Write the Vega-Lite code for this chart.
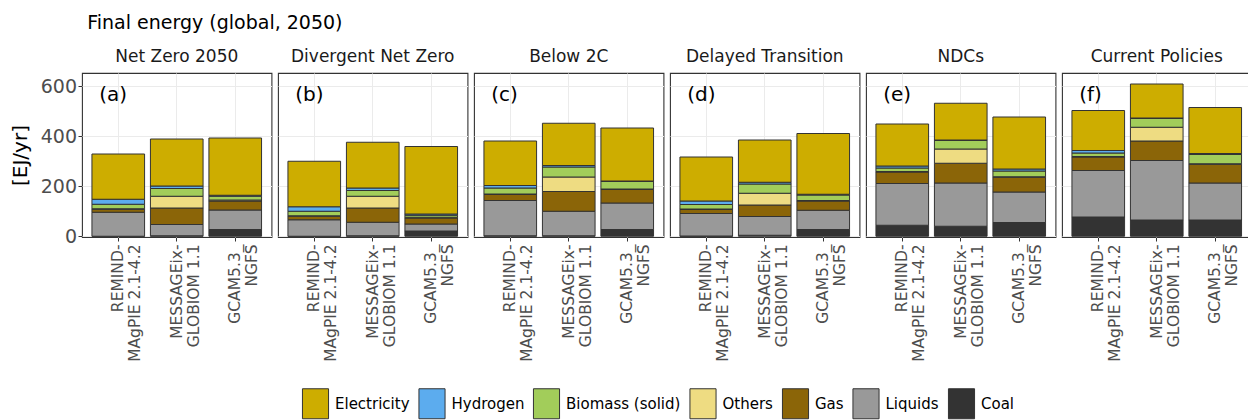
{
  "$schema": "https://vega.github.io/schema/vega-lite/v6.json",
  "padding": {"left": 10, "top": 14, "right": 0, "bottom": 0},
  "bounds": "flush",
  "title": {"text": "Final energy (global, 2050)", "anchor": "start", "frame": "bounds", "dx": 77, "fontSize": 19, "fontWeight": "normal", "color": "#000000", "font": "DejaVu Sans", "offset": 15},
  "data": {"values": [
    {"scenario": "Net Zero 2050", "model": "REMIND-MAgPIE 2.1-4.2", "carrier": "Coal", "value": 0, "tag": "(a)"},
    {"scenario": "Net Zero 2050", "model": "REMIND-MAgPIE 2.1-4.2", "carrier": "Liquids", "value": 96},
    {"scenario": "Net Zero 2050", "model": "REMIND-MAgPIE 2.1-4.2", "carrier": "Gas", "value": 12},
    {"scenario": "Net Zero 2050", "model": "REMIND-MAgPIE 2.1-4.2", "carrier": "Others", "value": 2},
    {"scenario": "Net Zero 2050", "model": "REMIND-MAgPIE 2.1-4.2", "carrier": "Biomass (solid)", "value": 18},
    {"scenario": "Net Zero 2050", "model": "REMIND-MAgPIE 2.1-4.2", "carrier": "Hydrogen", "value": 20},
    {"scenario": "Net Zero 2050", "model": "REMIND-MAgPIE 2.1-4.2", "carrier": "Electricity", "value": 181},
    {"scenario": "Net Zero 2050", "model": "MESSAGEix-GLOBIOM 1.1", "carrier": "Coal", "value": 2},
    {"scenario": "Net Zero 2050", "model": "MESSAGEix-GLOBIOM 1.1", "carrier": "Liquids", "value": 45},
    {"scenario": "Net Zero 2050", "model": "MESSAGEix-GLOBIOM 1.1", "carrier": "Gas", "value": 66},
    {"scenario": "Net Zero 2050", "model": "MESSAGEix-GLOBIOM 1.1", "carrier": "Others", "value": 47},
    {"scenario": "Net Zero 2050", "model": "MESSAGEix-GLOBIOM 1.1", "carrier": "Biomass (solid)", "value": 31},
    {"scenario": "Net Zero 2050", "model": "MESSAGEix-GLOBIOM 1.1", "carrier": "Hydrogen", "value": 10},
    {"scenario": "Net Zero 2050", "model": "MESSAGEix-GLOBIOM 1.1", "carrier": "Electricity", "value": 188},
    {"scenario": "Net Zero 2050", "model": "GCAM5.3_NGFS", "carrier": "Coal", "value": 27},
    {"scenario": "Net Zero 2050", "model": "GCAM5.3_NGFS", "carrier": "Liquids", "value": 78},
    {"scenario": "Net Zero 2050", "model": "GCAM5.3_NGFS", "carrier": "Gas", "value": 36},
    {"scenario": "Net Zero 2050", "model": "GCAM5.3_NGFS", "carrier": "Others", "value": 4},
    {"scenario": "Net Zero 2050", "model": "GCAM5.3_NGFS", "carrier": "Biomass (solid)", "value": 15},
    {"scenario": "Net Zero 2050", "model": "GCAM5.3_NGFS", "carrier": "Hydrogen", "value": 4},
    {"scenario": "Net Zero 2050", "model": "GCAM5.3_NGFS", "carrier": "Electricity", "value": 229},

    {"scenario": "Divergent Net Zero", "model": "REMIND-MAgPIE 2.1-4.2", "carrier": "Coal", "value": 0, "tag": "(b)"},
    {"scenario": "Divergent Net Zero", "model": "REMIND-MAgPIE 2.1-4.2", "carrier": "Liquids", "value": 66},
    {"scenario": "Divergent Net Zero", "model": "REMIND-MAgPIE 2.1-4.2", "carrier": "Gas", "value": 14},
    {"scenario": "Divergent Net Zero", "model": "REMIND-MAgPIE 2.1-4.2", "carrier": "Others", "value": 2},
    {"scenario": "Divergent Net Zero", "model": "REMIND-MAgPIE 2.1-4.2", "carrier": "Biomass (solid)", "value": 18},
    {"scenario": "Divergent Net Zero", "model": "REMIND-MAgPIE 2.1-4.2", "carrier": "Hydrogen", "value": 18},
    {"scenario": "Divergent Net Zero", "model": "REMIND-MAgPIE 2.1-4.2", "carrier": "Electricity", "value": 182},
    {"scenario": "Divergent Net Zero", "model": "MESSAGEix-GLOBIOM 1.1", "carrier": "Coal", "value": 2},
    {"scenario": "Divergent Net Zero", "model": "MESSAGEix-GLOBIOM 1.1", "carrier": "Liquids", "value": 54},
    {"scenario": "Divergent Net Zero", "model": "MESSAGEix-GLOBIOM 1.1", "carrier": "Gas", "value": 57},
    {"scenario": "Divergent Net Zero", "model": "MESSAGEix-GLOBIOM 1.1", "carrier": "Others", "value": 47},
    {"scenario": "Divergent Net Zero", "model": "MESSAGEix-GLOBIOM 1.1", "carrier": "Biomass (solid)", "value": 23},
    {"scenario": "Divergent Net Zero", "model": "MESSAGEix-GLOBIOM 1.1", "carrier": "Hydrogen", "value": 10},
    {"scenario": "Divergent Net Zero", "model": "MESSAGEix-GLOBIOM 1.1", "carrier": "Electricity", "value": 183},
    {"scenario": "Divergent Net Zero", "model": "GCAM5.3_NGFS", "carrier": "Coal", "value": 21},
    {"scenario": "Divergent Net Zero", "model": "GCAM5.3_NGFS", "carrier": "Liquids", "value": 28},
    {"scenario": "Divergent Net Zero", "model": "GCAM5.3_NGFS", "carrier": "Gas", "value": 24},
    {"scenario": "Divergent Net Zero", "model": "GCAM5.3_NGFS", "carrier": "Others", "value": 3},
    {"scenario": "Divergent Net Zero", "model": "GCAM5.3_NGFS", "carrier": "Biomass (solid)", "value": 8},
    {"scenario": "Divergent Net Zero", "model": "GCAM5.3_NGFS", "carrier": "Hydrogen", "value": 5},
    {"scenario": "Divergent Net Zero", "model": "GCAM5.3_NGFS", "carrier": "Electricity", "value": 270},

    {"scenario": "Below 2C", "model": "REMIND-MAgPIE 2.1-4.2", "carrier": "Coal", "value": 2, "tag": "(c)"},
    {"scenario": "Below 2C", "model": "REMIND-MAgPIE 2.1-4.2", "carrier": "Liquids", "value": 141},
    {"scenario": "Below 2C", "model": "REMIND-MAgPIE 2.1-4.2", "carrier": "Gas", "value": 24},
    {"scenario": "Below 2C", "model": "REMIND-MAgPIE 2.1-4.2", "carrier": "Others", "value": 2},
    {"scenario": "Below 2C", "model": "REMIND-MAgPIE 2.1-4.2", "carrier": "Biomass (solid)", "value": 24},
    {"scenario": "Below 2C", "model": "REMIND-MAgPIE 2.1-4.2", "carrier": "Hydrogen", "value": 10},
    {"scenario": "Below 2C", "model": "REMIND-MAgPIE 2.1-4.2", "carrier": "Electricity", "value": 178},
    {"scenario": "Below 2C", "model": "MESSAGEix-GLOBIOM 1.1", "carrier": "Coal", "value": 2},
    {"scenario": "Below 2C", "model": "MESSAGEix-GLOBIOM 1.1", "carrier": "Liquids", "value": 98},
    {"scenario": "Below 2C", "model": "MESSAGEix-GLOBIOM 1.1", "carrier": "Gas", "value": 79},
    {"scenario": "Below 2C", "model": "MESSAGEix-GLOBIOM 1.1", "carrier": "Others", "value": 58},
    {"scenario": "Below 2C", "model": "MESSAGEix-GLOBIOM 1.1", "carrier": "Biomass (solid)", "value": 40},
    {"scenario": "Below 2C", "model": "MESSAGEix-GLOBIOM 1.1", "carrier": "Hydrogen", "value": 6},
    {"scenario": "Below 2C", "model": "MESSAGEix-GLOBIOM 1.1", "carrier": "Electricity", "value": 169},
    {"scenario": "Below 2C", "model": "GCAM5.3_NGFS", "carrier": "Coal", "value": 27},
    {"scenario": "Below 2C", "model": "GCAM5.3_NGFS", "carrier": "Liquids", "value": 106},
    {"scenario": "Below 2C", "model": "GCAM5.3_NGFS", "carrier": "Gas", "value": 54},
    {"scenario": "Below 2C", "model": "GCAM5.3_NGFS", "carrier": "Others", "value": 2},
    {"scenario": "Below 2C", "model": "GCAM5.3_NGFS", "carrier": "Biomass (solid)", "value": 30},
    {"scenario": "Below 2C", "model": "GCAM5.3_NGFS", "carrier": "Hydrogen", "value": 2},
    {"scenario": "Below 2C", "model": "GCAM5.3_NGFS", "carrier": "Electricity", "value": 212},

    {"scenario": "Delayed Transition", "model": "REMIND-MAgPIE 2.1-4.2", "carrier": "Coal", "value": 1, "tag": "(d)"},
    {"scenario": "Delayed Transition", "model": "REMIND-MAgPIE 2.1-4.2", "carrier": "Liquids", "value": 90},
    {"scenario": "Delayed Transition", "model": "REMIND-MAgPIE 2.1-4.2", "carrier": "Gas", "value": 16},
    {"scenario": "Delayed Transition", "model": "REMIND-MAgPIE 2.1-4.2", "carrier": "Others", "value": 2},
    {"scenario": "Delayed Transition", "model": "REMIND-MAgPIE 2.1-4.2", "carrier": "Biomass (solid)", "value": 18},
    {"scenario": "Delayed Transition", "model": "REMIND-MAgPIE 2.1-4.2", "carrier": "Hydrogen", "value": 14},
    {"scenario": "Delayed Transition", "model": "REMIND-MAgPIE 2.1-4.2", "carrier": "Electricity", "value": 176},
    {"scenario": "Delayed Transition", "model": "MESSAGEix-GLOBIOM 1.1", "carrier": "Coal", "value": 4},
    {"scenario": "Delayed Transition", "model": "MESSAGEix-GLOBIOM 1.1", "carrier": "Liquids", "value": 75},
    {"scenario": "Delayed Transition", "model": "MESSAGEix-GLOBIOM 1.1", "carrier": "Gas", "value": 46},
    {"scenario": "Delayed Transition", "model": "MESSAGEix-GLOBIOM 1.1", "carrier": "Others", "value": 47},
    {"scenario": "Delayed Transition", "model": "MESSAGEix-GLOBIOM 1.1", "carrier": "Biomass (solid)", "value": 37},
    {"scenario": "Delayed Transition", "model": "MESSAGEix-GLOBIOM 1.1", "carrier": "Hydrogen", "value": 7},
    {"scenario": "Delayed Transition", "model": "MESSAGEix-GLOBIOM 1.1", "carrier": "Electricity", "value": 169},
    {"scenario": "Delayed Transition", "model": "GCAM5.3_NGFS", "carrier": "Coal", "value": 27},
    {"scenario": "Delayed Transition", "model": "GCAM5.3_NGFS", "carrier": "Liquids", "value": 77},
    {"scenario": "Delayed Transition", "model": "GCAM5.3_NGFS", "carrier": "Gas", "value": 37},
    {"scenario": "Delayed Transition", "model": "GCAM5.3_NGFS", "carrier": "Others", "value": 2},
    {"scenario": "Delayed Transition", "model": "GCAM5.3_NGFS", "carrier": "Biomass (solid)", "value": 22},
    {"scenario": "Delayed Transition", "model": "GCAM5.3_NGFS", "carrier": "Hydrogen", "value": 3},
    {"scenario": "Delayed Transition", "model": "GCAM5.3_NGFS", "carrier": "Electricity", "value": 243},

    {"scenario": "NDCs", "model": "REMIND-MAgPIE 2.1-4.2", "carrier": "Coal", "value": 44, "tag": "(e)"},
    {"scenario": "NDCs", "model": "REMIND-MAgPIE 2.1-4.2", "carrier": "Liquids", "value": 167},
    {"scenario": "NDCs", "model": "REMIND-MAgPIE 2.1-4.2", "carrier": "Gas", "value": 46},
    {"scenario": "NDCs", "model": "REMIND-MAgPIE 2.1-4.2", "carrier": "Others", "value": 2},
    {"scenario": "NDCs", "model": "REMIND-MAgPIE 2.1-4.2", "carrier": "Biomass (solid)", "value": 14},
    {"scenario": "NDCs", "model": "REMIND-MAgPIE 2.1-4.2", "carrier": "Hydrogen", "value": 8},
    {"scenario": "NDCs", "model": "REMIND-MAgPIE 2.1-4.2", "carrier": "Electricity", "value": 168},
    {"scenario": "NDCs", "model": "MESSAGEix-GLOBIOM 1.1", "carrier": "Coal", "value": 40},
    {"scenario": "NDCs", "model": "MESSAGEix-GLOBIOM 1.1", "carrier": "Liquids", "value": 173},
    {"scenario": "NDCs", "model": "MESSAGEix-GLOBIOM 1.1", "carrier": "Gas", "value": 79},
    {"scenario": "NDCs", "model": "MESSAGEix-GLOBIOM 1.1", "carrier": "Others", "value": 57},
    {"scenario": "NDCs", "model": "MESSAGEix-GLOBIOM 1.1", "carrier": "Biomass (solid)", "value": 34},
    {"scenario": "NDCs", "model": "MESSAGEix-GLOBIOM 1.1", "carrier": "Hydrogen", "value": 2},
    {"scenario": "NDCs", "model": "MESSAGEix-GLOBIOM 1.1", "carrier": "Electricity", "value": 147},
    {"scenario": "NDCs", "model": "GCAM5.3_NGFS", "carrier": "Coal", "value": 55},
    {"scenario": "NDCs", "model": "GCAM5.3_NGFS", "carrier": "Liquids", "value": 122},
    {"scenario": "NDCs", "model": "GCAM5.3_NGFS", "carrier": "Gas", "value": 59},
    {"scenario": "NDCs", "model": "GCAM5.3_NGFS", "carrier": "Others", "value": 2},
    {"scenario": "NDCs", "model": "GCAM5.3_NGFS", "carrier": "Biomass (solid)", "value": 23},
    {"scenario": "NDCs", "model": "GCAM5.3_NGFS", "carrier": "Hydrogen", "value": 8},
    {"scenario": "NDCs", "model": "GCAM5.3_NGFS", "carrier": "Electricity", "value": 208},

    {"scenario": "Current Policies", "model": "REMIND-MAgPIE 2.1-4.2", "carrier": "Coal", "value": 77, "tag": "(f)"},
    {"scenario": "Current Policies", "model": "REMIND-MAgPIE 2.1-4.2", "carrier": "Liquids", "value": 186},
    {"scenario": "Current Policies", "model": "REMIND-MAgPIE 2.1-4.2", "carrier": "Gas", "value": 54},
    {"scenario": "Current Policies", "model": "REMIND-MAgPIE 2.1-4.2", "carrier": "Others", "value": 2},
    {"scenario": "Current Policies", "model": "REMIND-MAgPIE 2.1-4.2", "carrier": "Biomass (solid)", "value": 14},
    {"scenario": "Current Policies", "model": "REMIND-MAgPIE 2.1-4.2", "carrier": "Hydrogen", "value": 10},
    {"scenario": "Current Policies", "model": "REMIND-MAgPIE 2.1-4.2", "carrier": "Electricity", "value": 160},
    {"scenario": "Current Policies", "model": "MESSAGEix-GLOBIOM 1.1", "carrier": "Coal", "value": 65},
    {"scenario": "Current Policies", "model": "MESSAGEix-GLOBIOM 1.1", "carrier": "Liquids", "value": 238},
    {"scenario": "Current Policies", "model": "MESSAGEix-GLOBIOM 1.1", "carrier": "Gas", "value": 78},
    {"scenario": "Current Policies", "model": "MESSAGEix-GLOBIOM 1.1", "carrier": "Others", "value": 55},
    {"scenario": "Current Policies", "model": "MESSAGEix-GLOBIOM 1.1", "carrier": "Biomass (solid)", "value": 35},
    {"scenario": "Current Policies", "model": "MESSAGEix-GLOBIOM 1.1", "carrier": "Hydrogen", "value": 2},
    {"scenario": "Current Policies", "model": "MESSAGEix-GLOBIOM 1.1", "carrier": "Electricity", "value": 136},
    {"scenario": "Current Policies", "model": "GCAM5.3_NGFS", "carrier": "Coal", "value": 65},
    {"scenario": "Current Policies", "model": "GCAM5.3_NGFS", "carrier": "Liquids", "value": 148},
    {"scenario": "Current Policies", "model": "GCAM5.3_NGFS", "carrier": "Gas", "value": 75},
    {"scenario": "Current Policies", "model": "GCAM5.3_NGFS", "carrier": "Others", "value": 2},
    {"scenario": "Current Policies", "model": "GCAM5.3_NGFS", "carrier": "Biomass (solid)", "value": 37},
    {"scenario": "Current Policies", "model": "GCAM5.3_NGFS", "carrier": "Hydrogen", "value": 4},
    {"scenario": "Current Policies", "model": "GCAM5.3_NGFS", "carrier": "Electricity", "value": 184}
  ]},
  "transform": [
    {"calculate": "indexof(['Coal', 'Liquids', 'Gas', 'Others', 'Biomass (solid)', 'Hydrogen', 'Electricity'], datum.carrier)", "as": "stackorder"}
  ],
  "facet": {
    "column": {
      "field": "scenario", "type": "nominal",
      "sort": ["Net Zero 2050", "Divergent Net Zero", "Below 2C", "Delayed Transition", "NDCs", "Current Policies"],
      "header": {"title": null, "labelFontSize": 17, "labelColor": "#1a1a1a", "labelFont": "DejaVu Sans", "labelPadding": 7}
    }
  },
  "spacing": 6,
  "spec": {
    "width": 189.5,
    "height": 164,
    "layer": [
      {
        "mark": {"type": "bar", "stroke": "#333333", "strokeWidth": 1},
        "encoding": {
          "x": {
            "field": "model", "type": "nominal",
            "sort": ["REMIND-MAgPIE 2.1-4.2", "MESSAGEix-GLOBIOM 1.1", "GCAM5.3_NGFS"],
            "scale": {"paddingInner": 0.1, "paddingOuter": 0.17},
            "axis": {
              "title": null, "labelAngle": -90, "labelAlign": "right", "labelBaseline": "middle",
              "labelFontSize": 15.5, "labelColor": "#4d4d4d", "labelFont": "DejaVu Sans", "labelLineHeight": 17,
              "labelPadding": 3, "tickSize": 4, "tickColor": "#333333", "domain": false,
              "grid": true, "gridColor": "#ebebeb", "bandPosition": 0.5,
              "labelExpr": "datum.value == 'REMIND-MAgPIE 2.1-4.2' ? ['REMIND-', 'MAgPIE 2.1-4.2'] : datum.value == 'MESSAGEix-GLOBIOM 1.1' ? ['MESSAGEix-', 'GLOBIOM 1.1'] : ['GCAM5.3_', 'NGFS']"
            }
          },
          "y": {
            "field": "value", "type": "quantitative", "aggregate": "sum", "stack": "zero",
            "scale": {"domain": [-3, 653], "nice": false},
            "axis": {
              "title": "[EJ/yr]", "titleFontSize": 20, "titleFontWeight": "normal", "titleColor": "#000000", "titleFont": "DejaVu Sans", "titlePadding": 10,
              "values": [0, 100, 200, 300, 400, 500, 600],
              "labelExpr": "datum.value % 200 == 0 ? datum.label : ''",
              "labelFontSize": 19, "labelColor": "#4d4d4d", "labelFont": "DejaVu Sans", "labelPadding": 1.5,
              "tickSize": 4, "tickColor": {"condition": {"test": "datum.value % 200 == 0", "value": "#333333"}, "value": "transparent"},
              "domain": false, "grid": true, "gridColor": "#ebebeb"
            }
          },
          "order": {"field": "stackorder", "type": "quantitative", "sort": "ascending"},
          "color": {
            "field": "carrier", "type": "nominal",
            "scale": {
              "domain": ["Electricity", "Hydrogen", "Biomass (solid)", "Others", "Gas", "Liquids", "Coal"],
              "range": ["#CDAD00", "#5CACEE", "#A2CD5A", "#EEDC82", "#8B6508", "#999999", "#333333"]
            },
            "legend": {
              "title": null, "orient": "none", "direction": "horizontal", "legendX": 218, "legendY": 315,
              "symbolType": "M-0.87,-1H0.87V1H-0.87Z", "symbolSize": 900, "symbolStrokeColor": "#333333", "symbolStrokeWidth": 1,
              "labelFontSize": 15, "labelColor": "#000000", "labelFont": "DejaVu Sans", "labelOffset": 4, "columnPadding": 6.5, "padding": 0
            }
          }
        }
      },
      {
        "transform": [{"filter": "isValid(datum.tag)"}],
        "mark": {"type": "text", "align": "left", "baseline": "alphabetic", "fontSize": 20, "font": "DejaVu Sans", "color": "#000000", "dx": -19},
        "encoding": {
          "x": {"field": "model", "type": "nominal", "sort": ["REMIND-MAgPIE 2.1-4.2", "MESSAGEix-GLOBIOM 1.1", "GCAM5.3_NGFS"]},
          "y": {"datum": 540},
          "text": {"field": "tag"}
        }
      }
    ]
  },
  "config": {
    "view": {"stroke": "#333333", "strokeWidth": 1.1},
    "font": "DejaVu Sans"
  }
}
